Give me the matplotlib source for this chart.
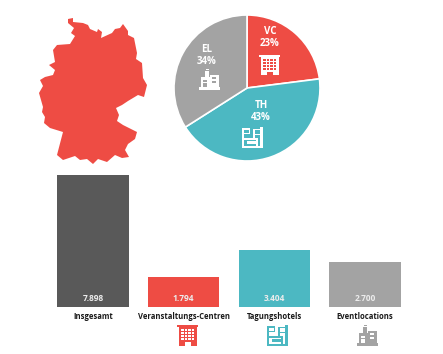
import matplotlib
matplotlib.use('Agg')
import matplotlib.pyplot as plt
from matplotlib.patches import Polygon, Rectangle

W, H = 443, 354
plt.rcParams['font.family'] = ['Open Sans', 'DejaVu Sans']

RED = '#EE4C44'
TEAL = '#4CB8C2'
GREY = '#A3A3A3'
DARK = '#595959'

categories = ['Insgesamt', 'Veranstaltungs-Centren', 'Tagungshotels', 'Eventlocations']
bar_values = [7898, 1794, 3404, 2700]
bar_labels = ['7.898', '1.794', '3.404', '2.700']
bar_colors = [DARK, RED, TEAL, GREY]

pie_names = ['VC', 'TH', 'EL']
pie_shares = [23, 43, 34]
pie_colors = [RED, TEAL, GREY]

# outline of germany
germany_x = [68, 73, 73, 83, 88, 90, 97, 98, 102, 101, 112, 115, 120, 123, 128, 128, 134, 137,
             136, 142, 143, 147, 144, 138, 128, 122, 116, 119, 117, 123, 137, 135, 128, 125,
             129, 122, 115, 107, 98, 93, 87, 80, 75, 63, 57, 63, 50, 44, 45, 42, 43, 39, 43,
             40, 45, 53, 55, 49, 55, 53, 57, 70, 75, 71, 74, 68]
germany_y = [19, 18, 22, 23, 25, 29, 32, 29, 32, 38, 33, 29, 28, 24, 31, 35, 38, 53, 59, 63,
             78, 85, 97, 95, 101, 105, 108, 115, 121, 125, 132, 139, 144, 150, 157, 158, 155,
             162, 159, 164, 159, 160, 156, 160, 155, 132, 128, 123, 117, 112, 107, 93, 86, 80,
             77, 75, 70, 65, 62, 50, 45, 44, 36, 33, 28, 23]


def px_axes(left, top, right, bottom):
    return fig.add_axes([left / W, 1 - bottom / H, (right - left) / W, (bottom - top) / H])


def rects(ax, cx, cy, s, items, color, bg):
    for x, y, w, h, c in items:
        ax.add_patch(Rectangle((cx + x * s, cy + y * s), w * s, h * s,
                               fc=color if c else bg, ec='none', zorder=5))


def icon_hotel(ax, cx, cy, s, color, bg):
    items = [(-.5, -.5, 1, .12, 1), (-.42, -.38, .84, .88, 1)]
    for i in range(4):
        for j in range(4):
            items.append((-.33 + i * .17, -.3 + j * .15, .12, .09, 0))
    items.append((-.12, .33, .24, .17, 0))
    rects(ax, cx, cy, s, items, color, bg)


def icon_tagung(ax, cx, cy, s, color, bg):
    items = [(-.5, -.42, .08, .92, 1), (-.5, -.42, .36, .07, 1), (-.5, -.2, .36, .07, 1),
             (-.2, -.42, .08, .3, 1), (-.5, .05, .7, .07, 1), (-.5, .42, 1, .08, 1),
             (.35, -.5, .15, 1, 1), (.02, -.38, .08, .43, 1), (.02, -.38, .33, .07, 1),
             (.02, -.15, .33, .07, 1), (-.3, .2, .5, .13, 1), (.16, .05, .07, .4, 1)]
    rects(ax, cx, cy, s, items, color, bg)


def icon_event(ax, cx, cy, s, color, bg):
    items = [(-.5, .36, 1, .14, 1), (-.42, -.1, .4, .46, 1), (.02, -.18, .4, .54, 1),
             (-.25, -.38, .22, .28, 1), (-.2, -.5, .16, .08, 1), (-.32, .05, .2, .09, 0),
             (.1, -.08, .2, .09, 0), (.1, .1, .2, .09, 0), (-.32, .2, .2, .16, 0)]
    rects(ax, cx, cy, s, items, color, bg)


fig = plt.figure(figsize=(W / 100, H / 100), dpi=100)

# overlay in pixel coordinates for map and icons
over = fig.add_axes([0, 0, 1, 1], zorder=3)
over.set_xlim(0, W)
over.set_ylim(H, 0)
over.axis('off')
over.patch.set_alpha(0)
over.add_patch(Polygon(list(zip(germany_x, germany_y)), closed=True, fc=RED, ec='none'))

# bars
bar_ax = px_axes(57, 175, 401, 307)
xs = range(len(categories))
bar_ax.bar(xs, bar_values, width=0.79, color=bar_colors)
bar_ax.set_xlim(-0.395, 3.395)
bar_ax.set_ylim(0, 7898)
bar_ax.set_yticks([])
bar_ax.set_xticks(list(xs))
bar_ax.set_xticklabels(categories, fontsize=5.5, fontweight='bold', color='#1a1a1a')
bar_ax.tick_params(axis='x', length=0, pad=3.5)
for s in bar_ax.spines.values():
    s.set_visible(False)
for x, lab in zip(xs, bar_labels):
    bar_ax.annotate(lab, (x, 0), xytext=(0, 4), textcoords='offset pixels', ha='center',
                    va='bottom', fontsize=6, fontweight='bold', color='#ececec')

# pie
pie_ax = px_axes(174, 15, 320, 161)
pie_ax.pie(pie_shares, colors=pie_colors, startangle=90, counterclock=False, radius=1,
           wedgeprops=dict(edgecolor='white', linewidth=1.2))
pie_ax.set_xlim(-1, 1)
pie_ax.set_ylim(-1, 1)

pie_text = [(270, 32, 44), (261, 105, 117), (207, 49, 62)]
for (x, y1, y2), name, share in zip(pie_text, pie_names, pie_shares):
    over.text(x, y1, name, ha='center', va='center', color='white', fontsize=7,
              fontweight='bold')
    over.text(x, y2, f'{share}%', ha='center', va='center', color='white', fontsize=7,
              fontweight='bold')

icon_hotel(over, 270, 65, 21, 'white', RED)
icon_tagung(over, 253, 137, 21, 'white', TEAL)
icon_event(over, 210, 79, 21, 'white', GREY)

icon_hotel(over, 188, 335, 21, RED, 'white')
icon_tagung(over, 278, 335, 21, TEAL, 'white')
icon_event(over, 368, 335, 21, GREY, 'white')

fig.savefig('out.png', dpi=100)
